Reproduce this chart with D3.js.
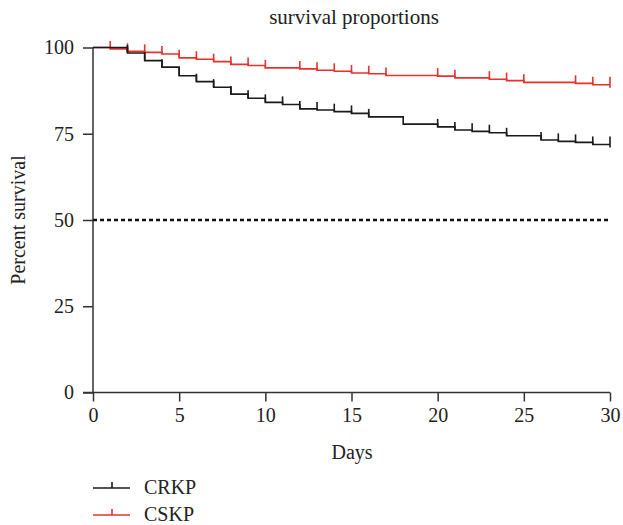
<!DOCTYPE html>
<html>
<head>
<meta charset="utf-8">
<script src="https://cdn.jsdelivr.net/npm/d3@7"></script>
<style>
  html, body { margin: 0; padding: 0; background: #fff; }
  svg text { font-family: "Liberation Serif", "DejaVu Serif", serif; fill: #222; }
</style>
</head>
<body>
<svg id="chart" width="623" height="525"></svg>
<script>
// ---- data ----
const seriesNames = ["CRKP", "CSKP"];
const xTicks = [0, 5, 10, 15, 20, 25, 30];
const yTicks = [0, 25, 50, 75, 100];

// CRKP: event days and survival (%) after each step
const crkpDays   = [2, 3, 4, 5, 6, 7, 8, 9, 10, 11, 12, 13, 14, 15, 16, 18, 20, 21, 22, 23, 24, 26, 27, 28, 29];
const crkpValues = [98.4, 96.2, 94.3, 91.8, 90.1, 88.5, 86.5, 85.3, 84.1, 83.5, 82.2, 81.9, 81.4, 80.9, 79.9, 77.8, 77.0, 76.1, 75.7, 75.3, 74.4, 73.2, 72.8, 72.5, 71.9];
const crkpCensor = [2, 3, 4, 5, 6, 7, 8, 9, 10, 11, 12, 13, 14, 15, 16, 20, 21, 22, 23, 24, 26, 27, 28, 29, 30];

// CSKP
const cskpDays   = [1, 2, 3, 4, 5, 6, 7, 8, 9, 10, 12, 13, 14, 15, 16, 17, 20, 21, 23, 24, 25, 28, 29];
const cskpValues = [99.6, 98.9, 98.6, 98.1, 97.0, 96.6, 95.9, 95.1, 94.8, 94.1, 93.8, 93.4, 93.1, 92.6, 92.4, 91.9, 91.7, 91.2, 90.8, 90.4, 89.9, 89.6, 89.2];
const cskpCensor = [1, 2, 3, 4, 5, 6, 7, 8, 9, 10, 12, 13, 14, 15, 16, 17, 20, 21, 23, 24, 25, 28, 29, 30];

const medianLine = 50;
const colors = ["#1a1a1a", "#e8302c"];

// ---- layout ----
const svg = d3.select("#chart");
const x = d3.scaleLinear().domain([0, 30]).range([93, 610]);
const y = d3.scaleLinear().domain([0, 100]).range([392.5, 47.5]);

const axisColor = "#333";

// title
svg.append("text").attr("x", 354).attr("y", 24).attr("text-anchor", "middle")
  .style("font-size", "21px").text("survival proportions");

// y axis
const yAxis = svg.append("g").attr("transform", `translate(${x(0)},0)`)
  .call(d3.axisLeft(y).tickValues(yTicks).tickSize(10).tickPadding(9));
// x axis
const xAxis = svg.append("g").attr("transform", `translate(0,${y(0)})`)
  .call(d3.axisBottom(x).tickValues(xTicks).tickSize(9).tickPadding(6));
[yAxis, xAxis].forEach(g => {
  g.select(".domain").attr("stroke", axisColor).attr("stroke-width", 1.5);
  g.selectAll(".tick line").attr("stroke", axisColor).attr("stroke-width", 1.5);
  g.selectAll(".tick text").style("font-size", "20px")
    .style("font-family", '"Liberation Serif", serif').attr("fill", "#222");
});
yAxis.select(".domain").attr("d", `M0,${y(100)}V${y(0)}`);
xAxis.select(".domain").attr("d", `M${x(0) - 10},0H${x(30)}`);

// axis titles
svg.append("text").attr("x", 352).attr("y", 459).attr("text-anchor", "middle")
  .style("font-size", "20px").text("Days");
svg.append("text").attr("transform", "translate(25,220) rotate(-90)")
  .attr("text-anchor", "middle").style("font-size", "20px").text("Percent survival");

// 50% dashed line
svg.append("line").attr("x1", x(0)).attr("x2", x(30))
  .attr("y1", y(medianLine)).attr("y2", y(medianLine))
  .attr("stroke", "#111").attr("stroke-width", 2.5).attr("stroke-dasharray", "4,3");

// survival curves
const series = [
  { name: seriesNames[0], days: crkpDays, values: crkpValues, censor: crkpCensor, color: colors[0] },
  { name: seriesNames[1], days: cskpDays, values: cskpValues, censor: cskpCensor, color: colors[1] }
];
const line = d3.line().x(d => x(d[0])).y(d => y(d[1])).curve(d3.curveStepAfter);

function survAt(s, t) {
  let v = 100;
  s.days.forEach((d, i) => { if (d <= t) v = s.values[i]; });
  return v;
}

[series[1], series[0]].forEach(s => {
  const pts = [[0, 100]].concat(s.days.map((d, i) => [d, s.values[i]]));
  pts.push([30, s.values[s.values.length - 1]]);
  svg.append("path").attr("d", line(pts)).attr("fill", "none")
    .attr("stroke", s.color).attr("stroke-width", 1.6);
  svg.append("g").selectAll("line").data(s.censor).join("line")
    .attr("x1", d => x(d)).attr("x2", d => x(d))
    .attr("y1", d => y(survAt(s, d)) + (d === 30 ? 3 : 0))
    .attr("y2", d => y(survAt(s, d)) - 8)
    .attr("stroke", s.color).attr("stroke-width", 1.6);
});

// legend
const legend = svg.append("g");
series.forEach((s, i) => {
  const ly = 488 + i * 27;
  legend.append("line").attr("x1", 93).attr("x2", 130).attr("y1", ly).attr("y2", ly)
    .attr("stroke", s.color).attr("stroke-width", 1.6);
  legend.append("line").attr("x1", 112).attr("x2", 112).attr("y1", ly).attr("y2", ly - 6)
    .attr("stroke", s.color).attr("stroke-width", 1.6);
  legend.append("text").attr("x", 144).attr("y", ly + 6).style("font-size", "20px").text(s.name);
});
</script>
</body>
</html>
